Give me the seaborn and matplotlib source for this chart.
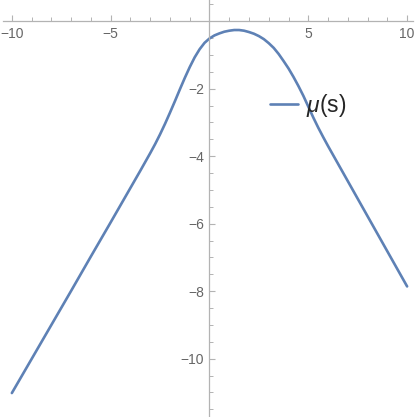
import numpy as np
import pandas as pd
import seaborn as sns
import matplotlib.pyplot as plt
from matplotlib.ticker import MultipleLocator

# values
s_vals = [-10, -9, -8, -7, -6, -5, -4, -3.5, -3, -2.75, -2.5, -2.25, -2, -1.75,
          -1.5, -1.25, -1, -0.75, -0.5, -0.25, 0, 0.25, 0.5, 0.75, 1, 1.25, 1.5,
          1.75, 2, 2.25, 2.5, 2.75, 3, 3.25, 3.5, 3.75, 4, 4.25, 4.5, 4.75, 5,
          5.25, 5.5, 5.75, 6, 7, 8, 9, 10]
mu_vals = [-11.02, -10.01, -9.0, -7.99, -6.97, -5.96, -4.94, -4.43, -3.91, -3.64,
           -3.35, -3.04, -2.71, -2.37, -2.02, -1.68, -1.36, -1.07, -0.83, -0.64,
           -0.51, -0.42, -0.36, -0.31, -0.28, -0.26, -0.26, -0.28, -0.32, -0.37,
           -0.44, -0.53, -0.65, -0.79, -0.97, -1.18, -1.40, -1.65, -1.92, -2.21,
           -2.53, -2.85, -3.15, -3.43, -3.70, -4.74, -5.78, -6.82, -7.86]
x_ticks = [-10, -5, 5, 10]
y_ticks = [-10, -8, -6, -4, -2]

df = pd.DataFrame({"s": s_vals, "mu": mu_vals})

sns.set_style("white")
plt.rcParams['font.family'] = ['Liberation Sans', 'DejaVu Sans']
plt.rcParams['mathtext.fontset'] = 'custom'
plt.rcParams['mathtext.it'] = 'Liberation Sans:italic'

fig = plt.figure(figsize=(4.17, 4.17), dpi=100)
ax = fig.add_axes([0, 0, 1, 1])

sns.lineplot(data=df, x="s", y="mu", color="#5E81B5", linewidth=1.9,
             label=r"$\mu$(s)", ax=ax)

ax.set_xlim(-10.6, 10.5)
ax.set_ylim(-11.73, 0.63)

axis_col = "#b3b3b3"
ax.spines['right'].set_visible(False)
ax.spines['top'].set_visible(False)
ax.spines['left'].set_position(('data', 0))
ax.spines['bottom'].set_position(('data', 0))
ax.spines['bottom'].set_bounds(-10.45, 10.3)
for sp in ['left', 'bottom']:
    ax.spines[sp].set_color(axis_col)
    ax.spines[sp].set_linewidth(0.9)

ax.set_xticks(x_ticks)
ax.set_yticks(y_ticks)
ax.set_xticklabels(["\u221210", "\u22125", "5", "10"])
ax.set_yticklabels(["\u221210", "\u22128", "\u22126", "\u22124", "\u22122"])
ax.xaxis.set_minor_locator(MultipleLocator(1))
ax.yaxis.set_minor_locator(MultipleLocator(0.5))
ax.tick_params(which='major', direction='in', length=4.5, width=0.8, color=axis_col,
               labelcolor="#666666", labelsize=10, pad=4)
ax.tick_params(which='minor', direction='in', length=2.8, width=0.7, color=axis_col)
ax.tick_params(axis='y', which='both', left=True)
ax.tick_params(axis='x', which='both', bottom=True)
ax.set_xlabel("")
ax.set_ylabel("")

leg = ax.legend(loc='center left', bbox_to_anchor=(0.648, 0.748), frameon=False,
                fontsize=16.5, handlelength=1.2, handletextpad=0.35,
                borderaxespad=0, borderpad=0)

fig.savefig("out.png", dpi=100)
